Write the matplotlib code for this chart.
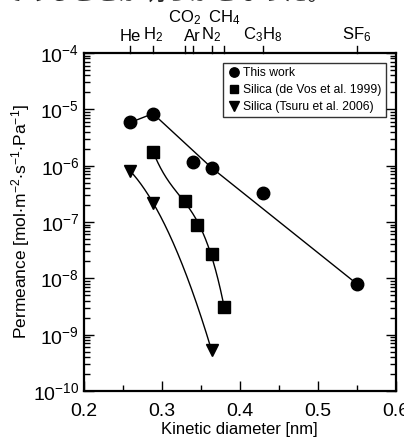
import numpy as np
import matplotlib
matplotlib.use("Agg")
import matplotlib.pyplot as plt
from matplotlib.ticker import LogLocator, LogFormatterMathtext, MultipleLocator, NullFormatter

plt.rcParams['font.family'] = ['Liberation Sans', 'Noto Sans CJK JP', 'DejaVu Sans']
plt.rcParams['mathtext.fontset'] = 'custom'
plt.rcParams['mathtext.rm'] = 'Liberation Sans'
plt.rcParams['mathtext.it'] = 'Liberation Sans'
plt.rcParams['mathtext.default'] = 'regular'

# This work (He, H2, Ar, N2, C3H8, SF6)
work_d = [0.260, 0.289, 0.340, 0.364, 0.430, 0.550]
work_p = [5.85e-6, 8.4e-6, 1.16e-6, 9.2e-7, 3.3e-7, 8.0e-9]
work_fit = [0, 1, 3, 5]  # points joined by the guide line

# Silica (de Vos et al. 1999): H2, CO2, Ar, N2, CH4
devos_d = [0.289, 0.330, 0.346, 0.364, 0.380]
devos_p = [1.78e-6, 2.35e-7, 9.0e-8, 2.7e-8, 3.1e-9]

# Silica (Tsuru et al. 2006): He, H2, N2
tsuru_d = [0.260, 0.289, 0.364]
tsuru_p = [8.0e-7, 2.2e-7, 5.3e-10]

gas_names = ['He', 'H$_2$', 'CO$_2$', 'Ar', 'N$_2$', 'CH$_4$', 'C$_3$H$_8$', 'SF$_6$']
gas_d = [0.260, 0.289, 0.330, 0.340, 0.364, 0.380, 0.430, 0.550]
gas_row = [0, 0, 1, 0, 0, 1, 0, 0]


def smooth_curve(x, y, deg):
    """Polynomial guide line in log space through the points"""
    c = np.polyfit(x, np.log10(y), deg)
    xs = np.linspace(min(x), max(x), 200)
    return xs, 10 ** np.polyval(c, xs)


fig = plt.figure(figsize=(4.04, 4.41), dpi=100)
ax = fig.add_axes([0.2067, 0.1134, 0.773, 0.7664])

# guide lines
ax.plot([work_d[i] for i in work_fit], [work_p[i] for i in work_fit],
        color='black', lw=1.0, zorder=2)
xs, ys = smooth_curve(devos_d, devos_p, 3)
ax.plot(xs, ys, color='black', lw=1.0, zorder=2)
xs, ys = smooth_curve(tsuru_d, tsuru_p, 2)
ax.plot(xs, ys, color='black', lw=1.0, zorder=2)

ax.plot(work_d, work_p, 'o', color='black', ms=9, ls='none', label='This work', zorder=3)
ax.plot(devos_d, devos_p, 's', color='black', ms=8, ls='none',
        label='Silica (de Vos et al. 1999)', zorder=3)
ax.plot(tsuru_d, tsuru_p, 'v', color='black', ms=9, ls='none',
        label='Silica (Tsuru et al. 2006)', zorder=3)

ax.set_yscale('log')
ax.set_xlim(0.2, 0.6)
ax.set_ylim(1e-10, 1e-4)
ax.xaxis.set_major_locator(MultipleLocator(0.1))
ax.xaxis.set_minor_locator(MultipleLocator(0.05))
ax.yaxis.set_major_locator(LogLocator(base=10, numticks=20))
ax.yaxis.set_minor_locator(LogLocator(base=10, subs=np.arange(2, 10), numticks=20))
ax.yaxis.set_major_formatter(LogFormatterMathtext())
ax.yaxis.set_minor_formatter(NullFormatter())

ax.tick_params(axis='both', which='both', direction='in', top=False, right=True,
               labelsize=14, width=1.0)
ax.tick_params(axis='both', which='major', length=7)
ax.tick_params(axis='both', which='minor', length=4)
ax.tick_params(axis='x', which='major', pad=9)
ax.tick_params(axis='y', which='major', pad=3)
for s in ax.spines.values():
    s.set_linewidth(1.6)

ax.set_xlabel('Kinetic diameter [nm]', fontsize=12)
ax.set_ylabel('Permeance [mol$\\cdot$m$^{-2}$$\\cdot$s$^{-1}$$\\cdot$Pa$^{-1}$]',
              fontsize=12.5)
ax.xaxis.set_label_coords(0.5, -0.093)
ax.yaxis.set_label_coords(-0.165, 0.5)

# gas labels on top axis
for name, d, row in zip(gas_names, gas_d, gas_row):
    ax.plot([d, d], [1.0, 1.022], color='black', lw=1.0,
            transform=ax.get_xaxis_transform(), clip_on=False)
    ax.text(d, 1.027 + 0.05 * row, name, transform=ax.get_xaxis_transform(),
            ha='center', va='bottom', fontsize=12)

leg = ax.legend(loc='upper right', fontsize=8.7, frameon=True, fancybox=False,
                edgecolor='black', handletextpad=0.3, borderpad=0.35,
                labelspacing=0.4, handlelength=1.0, markerscale=0.75,
                bbox_to_anchor=(0.988, 0.988))
leg.get_frame().set_linewidth(1.0)

# caption text from the page above, mostly outside the canvas
fig.text(0.0, 1.04, 'であることが明らかとなった。', fontsize=17, ha='left', va='top',
         color='#222222')

fig.savefig('out.png', dpi=100)
